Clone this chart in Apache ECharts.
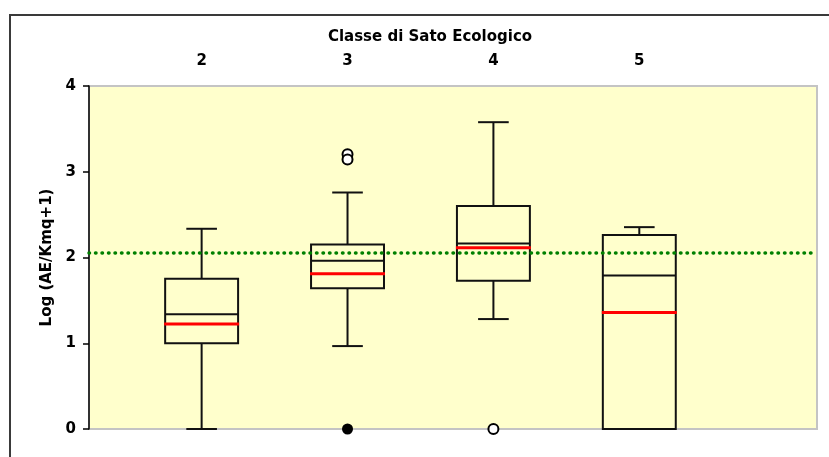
<!DOCTYPE html>
<html>
<head>
<meta charset="utf-8">
<script src="https://cdn.jsdelivr.net/npm/echarts@6/dist/echarts.min.js"></script>
<style>
    html, body { margin: 0; padding: 0; background: #fff; }
    #chart { width: 829px; height: 457px; }
</style>
</head>
<body>
<div id="chart"></div>
<script>
// Classe di Sato Ecologico
const categories = [2, 3, 4, 5]
const whiskerLow = [0, 0.967, 1.282, 0]
const q1 = [0.999, 1.64, 1.728, 0]
const median = [1.337, 1.962, 2.164, 1.791]
const q3 = [1.752, 2.153, 2.6, 2.261]
const whiskerHigh = [2.335, 2.758, 3.578, 2.354]
const mean = [1.224, 1.81, 2.113, 1.36]
const outliers = [[3, 3.205], [3, 3.143], [4, 0]]
const extremes = [[3, 0]]
const refValue = 2.06
const yTicks = [0, 1, 2, 3, 4]

const boxData = categories.map((c, i) => [c, whiskerLow[i], q1[i], median[i], q3[i], whiskerHigh[i], mean[i]])

const FONT = 'DejaVu Sans'
const INK = '#111'

function renderBox(params, api) {
    const x = api.value(0)
    const y = (dim) => api.coord([x, api.value(dim)])[1]
    const cx = api.coord([x, 0])[0]
    const bw = api.size([0.5, 0])[0]
    const cw = api.size([0.21, 0])[0]
    const yLo = y(1), yQ1 = y(2), yMed = y(3), yQ3 = y(4), yHi = y(5), yMean = y(6)
    const line = { stroke: INK, lineWidth: 2 }
    return {
        type: 'group',
        children: [
            { type: 'line', shape: { x1: cx, y1: yHi, x2: cx, y2: yQ3 }, style: line },
            { type: 'line', shape: { x1: cx, y1: yQ1, x2: cx, y2: yLo }, style: line },
            { type: 'line', shape: { x1: cx - cw / 2, y1: yHi, x2: cx + cw / 2, y2: yHi }, style: line },
            { type: 'line', shape: { x1: cx - cw / 2, y1: yLo, x2: cx + cw / 2, y2: yLo }, style: line },
            { type: 'rect', shape: { x: cx - bw / 2, y: yQ3, width: bw, height: yQ1 - yQ3 }, style: { fill: 'none', stroke: INK, lineWidth: 2 } },
            { type: 'line', shape: { x1: cx - bw / 2, y1: yMed, x2: cx + bw / 2, y2: yMed }, style: line },
            { type: 'line', shape: { x1: cx - bw / 2 - 1, y1: yMean, x2: cx + bw / 2 + 1, y2: yMean }, style: { stroke: '#ff0000', lineWidth: 3 } },
        ],
    }
}

const chart = echarts.init(document.getElementById('chart'))

chart.setOption({
    animation: false,
    title: {
        text: 'Classe di Sato Ecologico',
        left: 425,
        top: 25,
        textAlign: 'center',
        textStyle: { fontFamily: FONT, fontSize: 15, fontWeight: 'bold', color: '#000' },
    },
    graphic: [
        {
            type: 'rect',
            z: -10,
            shape: { x: 10, y: 15, width: 840, height: 470 },
            style: { fill: 'none', stroke: '#3a3a3a', lineWidth: 2 },
        },
    ],
    grid: {
        left: 89,
        right: 12,
        top: 86,
        bottom: 28,
        show: true,
        backgroundColor: '#ffffcc',
        borderColor: '#c4c4c4',
        borderWidth: 2,
    },
    xAxis: {
        type: 'value',
        position: 'top',
        min: 1.228,
        max: 6.218,
        axisLine: { show: false },
        axisTick: { show: false },
        splitLine: { show: false },
        axisLabel: {
            customValues: categories,
            margin: 17,
            color: '#000',
            fontFamily: FONT,
            fontSize: 15,
            fontWeight: 'bold',
        },
    },
    yAxis: {
        type: 'value',
        min: 0,
        max: 4,
        interval: 1,
        name: 'Log (AE/Kmq+1)',
        nameLocation: 'middle',
        nameGap: 34,
        nameRotate: 90,
        nameTextStyle: { fontFamily: FONT, fontSize: 15, fontWeight: 'bold', color: '#000' },
        axisLine: { show: true, lineStyle: { color: '#000', width: 1.5 } },
        axisTick: { show: true, length: 6, lineStyle: { color: '#000', width: 1.5 } },
        splitLine: { show: false },
        axisLabel: {
            customValues: yTicks,
            margin: 13,
            color: '#000',
            fontFamily: FONT,
            fontSize: 15,
            fontWeight: 'bold',
        },
    },
    series: [
        {
            name: 'box',
            type: 'custom',
            renderItem: renderBox,
            encode: { x: 0, y: [1, 2, 3, 4, 5, 6] },
            data: boxData,
            z: 3,
        },
        {
            name: 'outliers',
            type: 'scatter',
            data: outliers,
            symbol: 'circle',
            symbolSize: 10,
            itemStyle: { color: '#fff', borderColor: '#000', borderWidth: 2, opacity: 1 },
            z: 5,
            markLine: {
                silent: true,
                symbol: 'none',
                label: { show: false },
                lineStyle: { color: '#008000', width: 3.5, type: [0.5, 6], cap: 'round' },
                data: [{ yAxis: refValue }],
                z: 6,
            },
        },
        {
            name: 'extremes',
            type: 'scatter',
            data: extremes,
            symbol: 'circle',
            symbolSize: 11,
            itemStyle: { color: '#000', opacity: 1 },
            z: 5,
        },
    ],
})
</script>
</body>
</html>
